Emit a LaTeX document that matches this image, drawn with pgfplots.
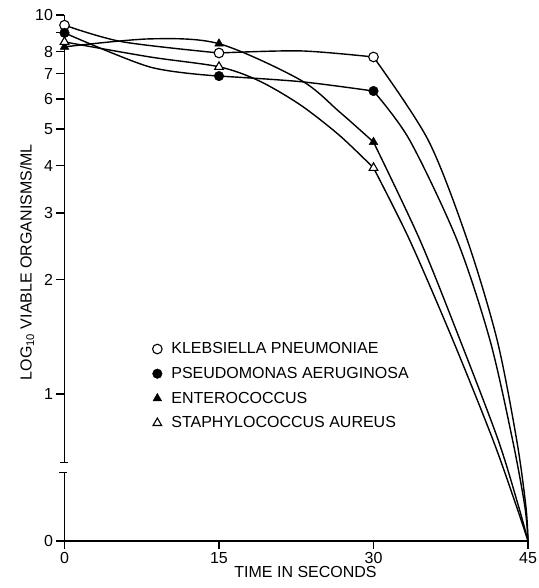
\documentclass[border=0pt]{standalone}
\usepackage{pgfplots}
\pgfplotsset{compat=1.18}
\usepackage{fontspec}
\setmainfont{Liberation Sans}
\begin{document}
\begin{tikzpicture}
\useasboundingbox (-64.5pt,-47pt) rectangle (473.5pt,541pt);
\begin{axis}[
  scale only axis, width=463.5pt, height=526pt,
  xmin=0, xmax=45, ymode=log, ymin=0.409, ymax=10,
  axis x line*=bottom, axis y line*=left,
  y axis line style={draw=none},
  x axis line style={-, line width=1.3pt},
  xtick={0,15,30,45}, xticklabels={0,15,30,45},
  ytick={0.409,1,2,3,4,5,6,7,8,9,10}, yticklabels={0,1,2,3,4,5,6,7,8,,10},
  yminorticks=false, xminorticks=false,
  tick align=outside, major tick length=8pt,
  tick style={black, line width=1.3pt},
  tick label style={font=\fontsize{16}{18}\selectfont},
  label style={font=\fontsize{16}{18}\selectfont},
  xlabel={TIME IN SECONDS},
  ylabel={LOG\textsubscript{10} VIABLE ORGANISMS/ML},
  xlabel style={at={(ticklabel cs:0.52)}, yshift=4pt},
  ylabel style={at={(ticklabel cs:0.53)}, yshift=-6pt},
  clip=false,
  legend style={draw=none, fill=none, at={(0.175,0.385)}, anchor=north west,
    font=\fontsize{16}{18}\selectfont, row sep=8pt},
  legend cell align=left,
  legend image code/.code={\draw[#1, only marks] plot coordinates {(0.3cm,0cm)}; \path[draw=none, fill=none] (0cm,0cm) -- (0.3cm+12pt,0cm);},
]
% Klebsiella curve
\addplot[black, line width=1.4pt, smooth, forget plot] coordinates {
 (0,9.4) (5.6,8.5) (15,7.94)};
\addplot[black, line width=1.4pt, smooth, forget plot] coordinates {
 (15,7.94) (22.9,8.04) (30,7.75)};
\addplot[black, line width=1.4pt, smooth, forget plot] coordinates {
 (30,7.75) (35.3,4.68) (39.1,2.55) (42.0,1.388) (43.9,0.756) (44.8,0.503) (45,0.409)};
% Pseudomonas curve
\addplot[black, line width=1.4pt, smooth, forget plot] coordinates {
 (0,8.97) (8.3,7.29) (15,6.9)};
\addplot[black, line width=1.4pt, smooth, forget plot] coordinates {
 (15,6.9) (22.9,6.67) (30,6.3)};
\addplot[black, line width=1.4pt, smooth, forget plot] coordinates {
 (30,6.3) (33.5,4.68) (38.1,2.55) (41.3,1.388) (43.5,0.756) (44.7,0.503) (45,0.409)};
% Enterococcus curve
\addplot[black, line width=1.4pt, smooth, forget plot] coordinates {
 (0,8.24) (8.3,8.65) (15,8.4) (22.9,6.74) (26.7,5.55) (30,4.62)};
\addplot[black, line width=1.4pt, smooth, forget plot] coordinates {
 (30,4.62) (34.5,2.55) (38.4,1.388) (42.1,0.756) (44.1,0.503) (45,0.409)};
% Staphylococcus curve
\addplot[black, line width=1.4pt, smooth, forget plot] coordinates {
 (0,8.49) (8.3,7.75) (15,7.3) (18.9,6.70) (22.9,5.79) (26.7,4.81) (30,3.95)};
\addplot[black, line width=1.4pt, smooth, forget plot] coordinates {
 (30,3.95) (33.5,2.55) (37.7,1.388) (41.6,0.756) (43.9,0.503) (45,0.409)};
% markers
\addplot[only marks, mark=*, mark size=4.8pt, mark options={fill=white, draw=black, line width=1.1pt}] coordinates {(0,9.4) (15,7.94) (30,7.75)};
\addlegendentry{KLEBSIELLA PNEUMONIAE}
\addplot[only marks, mark=*, mark size=4.8pt, mark options={fill=black, draw=black}] coordinates {(0,8.97) (15,6.9) (30,6.3)};
\addlegendentry{PSEUDOMONAS AERUGINOSA}
\addplot[only marks, mark=triangle*, mark size=5pt, mark options={fill=black, draw=black}] coordinates {(0,8.24) (15,8.4) (30,4.62)};
\addlegendentry{ENTEROCOCCUS}
\addplot[only marks, mark=triangle*, mark size=5pt, mark options={fill=white, draw=black, line width=1.1pt}] coordinates {(0,8.49) (15,7.3) (30,3.95)};
\addlegendentry{STAPHYLOCOCCUS AUREUS}
% broken y axis
\draw[line width=1.3pt] (axis cs:0,0.409) -- (axis cs:0,0.619);
\draw[line width=1.3pt] (axis cs:0,0.658) -- (axis cs:0,10);
\draw[line width=1.3pt] ([xshift=-4pt]axis cs:0,0.658) -- ([xshift=4pt]axis cs:0,0.658);
\draw[line width=1.3pt] ([xshift=-5pt]axis cs:0,0.619) -- ([xshift=3pt]axis cs:0,0.619);
\end{axis}
\end{tikzpicture}
\end{document}
